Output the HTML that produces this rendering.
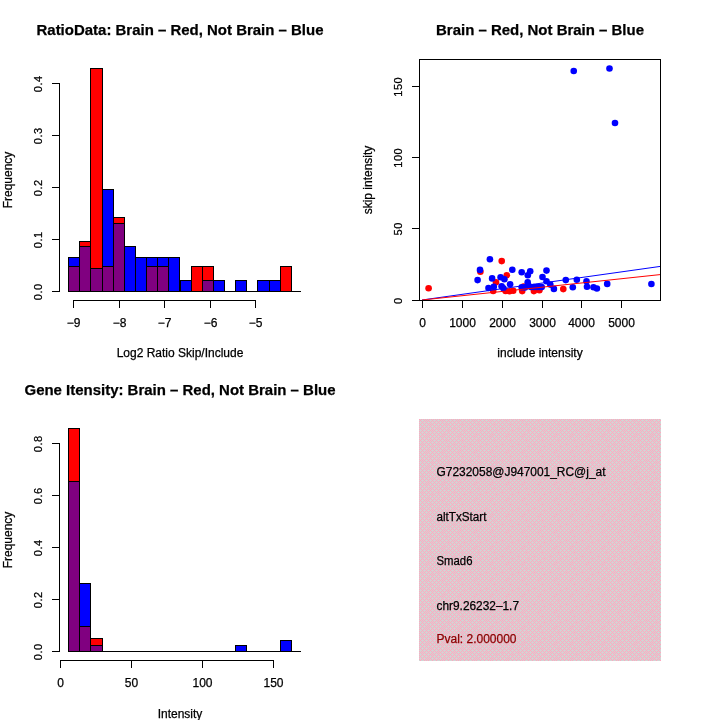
<!DOCTYPE html>
<html><head><meta charset="utf-8"><title>Plot</title>
<style>html,body{margin:0;padding:0;background:#fff;}svg{display:block;}text{font-family:"Liberation Sans",sans-serif;stroke:#000;stroke-width:0.25px;}</style></head>
<body>
<svg width="720" height="720" viewBox="0 0 720 720">
<defs><pattern id="dith" x="419" y="419" width="16" height="16" patternUnits="userSpaceOnUse"><rect width="16" height="16" fill="#d3d3d3"/><g fill="#ffa8c0" shape-rendering="crispEdges"><rect x="0" y="0" width="1" height="1"/><rect x="2" y="0" width="1" height="1"/><rect x="4" y="0" width="1" height="1"/><rect x="6" y="0" width="1" height="1"/><rect x="8" y="0" width="1" height="1"/><rect x="10" y="0" width="1" height="1"/><rect x="12" y="0" width="1" height="1"/><rect x="14" y="0" width="1" height="1"/><rect x="1" y="1" width="1" height="1"/><rect x="5" y="1" width="1" height="1"/><rect x="7" y="1" width="1" height="1"/><rect x="9" y="1" width="1" height="1"/><rect x="13" y="1" width="1" height="1"/><rect x="0" y="2" width="1" height="1"/><rect x="2" y="2" width="1" height="1"/><rect x="4" y="2" width="1" height="1"/><rect x="6" y="2" width="1" height="1"/><rect x="8" y="2" width="1" height="1"/><rect x="10" y="2" width="1" height="1"/><rect x="12" y="2" width="1" height="1"/><rect x="14" y="2" width="1" height="1"/><rect x="3" y="3" width="1" height="1"/><rect x="7" y="3" width="1" height="1"/><rect x="11" y="3" width="1" height="1"/><rect x="15" y="3" width="1" height="1"/><rect x="0" y="4" width="1" height="1"/><rect x="2" y="4" width="1" height="1"/><rect x="4" y="4" width="1" height="1"/><rect x="6" y="4" width="1" height="1"/><rect x="8" y="4" width="1" height="1"/><rect x="10" y="4" width="1" height="1"/><rect x="12" y="4" width="1" height="1"/><rect x="14" y="4" width="1" height="1"/><rect x="1" y="5" width="1" height="1"/><rect x="5" y="5" width="1" height="1"/><rect x="9" y="5" width="1" height="1"/><rect x="11" y="5" width="1" height="1"/><rect x="13" y="5" width="1" height="1"/><rect x="0" y="6" width="1" height="1"/><rect x="2" y="6" width="1" height="1"/><rect x="4" y="6" width="1" height="1"/><rect x="6" y="6" width="1" height="1"/><rect x="8" y="6" width="1" height="1"/><rect x="10" y="6" width="1" height="1"/><rect x="12" y="6" width="1" height="1"/><rect x="14" y="6" width="1" height="1"/><rect x="3" y="7" width="1" height="1"/><rect x="7" y="7" width="1" height="1"/><rect x="11" y="7" width="1" height="1"/><rect x="15" y="7" width="1" height="1"/><rect x="0" y="8" width="1" height="1"/><rect x="2" y="8" width="1" height="1"/><rect x="4" y="8" width="1" height="1"/><rect x="6" y="8" width="1" height="1"/><rect x="8" y="8" width="1" height="1"/><rect x="10" y="8" width="1" height="1"/><rect x="12" y="8" width="1" height="1"/><rect x="14" y="8" width="1" height="1"/><rect x="1" y="9" width="1" height="1"/><rect x="3" y="9" width="1" height="1"/><rect x="5" y="9" width="1" height="1"/><rect x="9" y="9" width="1" height="1"/><rect x="13" y="9" width="1" height="1"/><rect x="0" y="10" width="1" height="1"/><rect x="2" y="10" width="1" height="1"/><rect x="4" y="10" width="1" height="1"/><rect x="6" y="10" width="1" height="1"/><rect x="8" y="10" width="1" height="1"/><rect x="10" y="10" width="1" height="1"/><rect x="12" y="10" width="1" height="1"/><rect x="14" y="10" width="1" height="1"/><rect x="3" y="11" width="1" height="1"/><rect x="7" y="11" width="1" height="1"/><rect x="11" y="11" width="1" height="1"/><rect x="13" y="11" width="1" height="1"/><rect x="15" y="11" width="1" height="1"/><rect x="0" y="12" width="1" height="1"/><rect x="2" y="12" width="1" height="1"/><rect x="4" y="12" width="1" height="1"/><rect x="6" y="12" width="1" height="1"/><rect x="8" y="12" width="1" height="1"/><rect x="10" y="12" width="1" height="1"/><rect x="12" y="12" width="1" height="1"/><rect x="14" y="12" width="1" height="1"/><rect x="1" y="13" width="1" height="1"/><rect x="5" y="13" width="1" height="1"/><rect x="9" y="13" width="1" height="1"/><rect x="13" y="13" width="1" height="1"/><rect x="0" y="14" width="1" height="1"/><rect x="2" y="14" width="1" height="1"/><rect x="4" y="14" width="1" height="1"/><rect x="6" y="14" width="1" height="1"/><rect x="8" y="14" width="1" height="1"/><rect x="10" y="14" width="1" height="1"/><rect x="12" y="14" width="1" height="1"/><rect x="14" y="14" width="1" height="1"/><rect x="3" y="15" width="1" height="1"/><rect x="7" y="15" width="1" height="1"/><rect x="9" y="15" width="1" height="1"/><rect x="11" y="15" width="1" height="1"/><rect x="15" y="15" width="1" height="1"/></g></pattern></defs>
<rect width="720" height="720" fill="#fff"/>
<g id="p1">
<line x1="68" y1="291.5" x2="301" y2="291.5" stroke="#000" stroke-width="1" shape-rendering="crispEdges"/>
<rect x="68.50" y="266.50" width="11.00" height="25.00" fill="#ff0000" stroke="#000" stroke-width="1" shape-rendering="crispEdges"/>
<rect x="68.50" y="257.50" width="11.00" height="34.00" fill="#0000ff" stroke="#000" stroke-width="1" shape-rendering="crispEdges"/>
<rect x="68.50" y="266.50" width="11.00" height="25.00" fill="#800080" stroke="#000" stroke-width="1" shape-rendering="crispEdges"/>
<rect x="79.50" y="241.50" width="11.00" height="50.00" fill="#ff0000" stroke="#000" stroke-width="1" shape-rendering="crispEdges"/>
<rect x="79.50" y="246.50" width="11.00" height="45.00" fill="#0000ff" stroke="#000" stroke-width="1" shape-rendering="crispEdges"/>
<rect x="79.50" y="246.50" width="11.00" height="45.00" fill="#800080" stroke="#000" stroke-width="1" shape-rendering="crispEdges"/>
<rect x="90.50" y="68.50" width="12.00" height="223.00" fill="#ff0000" stroke="#000" stroke-width="1" shape-rendering="crispEdges"/>
<rect x="90.50" y="268.50" width="12.00" height="23.00" fill="#0000ff" stroke="#000" stroke-width="1" shape-rendering="crispEdges"/>
<rect x="90.50" y="268.50" width="12.00" height="23.00" fill="#800080" stroke="#000" stroke-width="1" shape-rendering="crispEdges"/>
<rect x="102.50" y="266.50" width="11.00" height="25.00" fill="#ff0000" stroke="#000" stroke-width="1" shape-rendering="crispEdges"/>
<rect x="102.50" y="189.50" width="11.00" height="102.00" fill="#0000ff" stroke="#000" stroke-width="1" shape-rendering="crispEdges"/>
<rect x="102.50" y="266.50" width="11.00" height="25.00" fill="#800080" stroke="#000" stroke-width="1" shape-rendering="crispEdges"/>
<rect x="113.50" y="217.50" width="11.00" height="74.00" fill="#ff0000" stroke="#000" stroke-width="1" shape-rendering="crispEdges"/>
<rect x="113.50" y="223.50" width="11.00" height="68.00" fill="#0000ff" stroke="#000" stroke-width="1" shape-rendering="crispEdges"/>
<rect x="113.50" y="223.50" width="11.00" height="68.00" fill="#800080" stroke="#000" stroke-width="1" shape-rendering="crispEdges"/>
<rect x="124.50" y="246.50" width="11.00" height="45.00" fill="#0000ff" stroke="#000" stroke-width="1" shape-rendering="crispEdges"/>
<rect x="135.50" y="257.50" width="11.00" height="34.00" fill="#0000ff" stroke="#000" stroke-width="1" shape-rendering="crispEdges"/>
<rect x="146.50" y="266.50" width="11.00" height="25.00" fill="#ff0000" stroke="#000" stroke-width="1" shape-rendering="crispEdges"/>
<rect x="146.50" y="257.50" width="11.00" height="34.00" fill="#0000ff" stroke="#000" stroke-width="1" shape-rendering="crispEdges"/>
<rect x="146.50" y="266.50" width="11.00" height="25.00" fill="#800080" stroke="#000" stroke-width="1" shape-rendering="crispEdges"/>
<rect x="157.50" y="266.50" width="11.00" height="25.00" fill="#ff0000" stroke="#000" stroke-width="1" shape-rendering="crispEdges"/>
<rect x="157.50" y="257.50" width="11.00" height="34.00" fill="#0000ff" stroke="#000" stroke-width="1" shape-rendering="crispEdges"/>
<rect x="157.50" y="266.50" width="11.00" height="25.00" fill="#800080" stroke="#000" stroke-width="1" shape-rendering="crispEdges"/>
<rect x="168.50" y="257.50" width="11.00" height="34.00" fill="#0000ff" stroke="#000" stroke-width="1" shape-rendering="crispEdges"/>
<rect x="180.50" y="280.50" width="11.00" height="11.00" fill="#0000ff" stroke="#000" stroke-width="1" shape-rendering="crispEdges"/>
<rect x="191.50" y="266.50" width="11.00" height="25.00" fill="#ff0000" stroke="#000" stroke-width="1" shape-rendering="crispEdges"/>
<rect x="202.50" y="266.50" width="11.00" height="25.00" fill="#ff0000" stroke="#000" stroke-width="1" shape-rendering="crispEdges"/>
<rect x="202.50" y="280.50" width="11.00" height="11.00" fill="#0000ff" stroke="#000" stroke-width="1" shape-rendering="crispEdges"/>
<rect x="202.50" y="280.50" width="11.00" height="11.00" fill="#800080" stroke="#000" stroke-width="1" shape-rendering="crispEdges"/>
<rect x="213.50" y="280.50" width="11.00" height="11.00" fill="#0000ff" stroke="#000" stroke-width="1" shape-rendering="crispEdges"/>
<rect x="235.50" y="280.50" width="11.00" height="11.00" fill="#0000ff" stroke="#000" stroke-width="1" shape-rendering="crispEdges"/>
<rect x="257.50" y="280.50" width="12.00" height="11.00" fill="#0000ff" stroke="#000" stroke-width="1" shape-rendering="crispEdges"/>
<rect x="269.50" y="280.50" width="11.00" height="11.00" fill="#0000ff" stroke="#000" stroke-width="1" shape-rendering="crispEdges"/>
<rect x="280.50" y="266.50" width="11.00" height="25.00" fill="#ff0000" stroke="#000" stroke-width="1" shape-rendering="crispEdges"/>
<line x1="59.5" y1="83" x2="59.5" y2="292" stroke="#000" stroke-width="1" shape-rendering="crispEdges"/>
<line x1="52" y1="291.5" x2="60" y2="291.5" stroke="#000" stroke-width="1" shape-rendering="crispEdges"/>
<text x="42" y="291.8" font-size="11" text-anchor="middle" transform="rotate(-90 42 291.8)" letter-spacing="0.5">0.0</text>
<line x1="52" y1="239.5" x2="60" y2="239.5" stroke="#000" stroke-width="1" shape-rendering="crispEdges"/>
<text x="42" y="239.8" font-size="11" text-anchor="middle" transform="rotate(-90 42 239.8)" letter-spacing="0.5">0.1</text>
<line x1="52" y1="187.5" x2="60" y2="187.5" stroke="#000" stroke-width="1" shape-rendering="crispEdges"/>
<text x="42" y="187.8" font-size="11" text-anchor="middle" transform="rotate(-90 42 187.8)" letter-spacing="0.5">0.2</text>
<line x1="52" y1="135.5" x2="60" y2="135.5" stroke="#000" stroke-width="1" shape-rendering="crispEdges"/>
<text x="42" y="135.8" font-size="11" text-anchor="middle" transform="rotate(-90 42 135.8)" letter-spacing="0.5">0.3</text>
<line x1="52" y1="83.5" x2="60" y2="83.5" stroke="#000" stroke-width="1" shape-rendering="crispEdges"/>
<text x="42" y="83.8" font-size="11" text-anchor="middle" transform="rotate(-90 42 83.8)" letter-spacing="0.5">0.4</text>
<line x1="73" y1="300.5" x2="256" y2="300.5" stroke="#000" stroke-width="1" shape-rendering="crispEdges"/>
<line x1="73.5" y1="300" x2="73.5" y2="308" stroke="#000" stroke-width="1" shape-rendering="crispEdges"/>
<text x="73.5" y="327.3" font-size="12" text-anchor="middle">−9</text>
<line x1="119.5" y1="300" x2="119.5" y2="308" stroke="#000" stroke-width="1" shape-rendering="crispEdges"/>
<text x="119.5" y="327.3" font-size="12" text-anchor="middle">−8</text>
<line x1="164.5" y1="300" x2="164.5" y2="308" stroke="#000" stroke-width="1" shape-rendering="crispEdges"/>
<text x="164.5" y="327.3" font-size="12" text-anchor="middle">−7</text>
<line x1="210.5" y1="300" x2="210.5" y2="308" stroke="#000" stroke-width="1" shape-rendering="crispEdges"/>
<text x="210.5" y="327.3" font-size="12" text-anchor="middle">−6</text>
<line x1="255.5" y1="300" x2="255.5" y2="308" stroke="#000" stroke-width="1" shape-rendering="crispEdges"/>
<text x="255.5" y="327.3" font-size="12" text-anchor="middle">−5</text>
<text x="180" y="35" font-size="15" text-anchor="middle" font-weight="bold" textLength="287" lengthAdjust="spacingAndGlyphs">RatioData: Brain – Red, Not Brain – Blue</text>
<text x="180" y="357" font-size="12" text-anchor="middle">Log2 Ratio Skip/Include</text>
<text x="11.5" y="180" font-size="12" text-anchor="middle" transform="rotate(-90 11.5 180)">Frequency</text>
</g>
<g id="p3">
<line x1="68" y1="651.5" x2="301" y2="651.5" stroke="#000" stroke-width="1" shape-rendering="crispEdges"/>
<rect x="68.50" y="428.50" width="11.00" height="223.00" fill="#ff0000" stroke="#000" stroke-width="1" shape-rendering="crispEdges"/>
<rect x="68.50" y="481.50" width="11.00" height="170.00" fill="#0000ff" stroke="#000" stroke-width="1" shape-rendering="crispEdges"/>
<rect x="68.50" y="481.50" width="11.00" height="170.00" fill="#800080" stroke="#000" stroke-width="1" shape-rendering="crispEdges"/>
<rect x="79.50" y="626.50" width="11.00" height="25.00" fill="#ff0000" stroke="#000" stroke-width="1" shape-rendering="crispEdges"/>
<rect x="79.50" y="583.50" width="11.00" height="68.00" fill="#0000ff" stroke="#000" stroke-width="1" shape-rendering="crispEdges"/>
<rect x="79.50" y="626.50" width="11.00" height="25.00" fill="#800080" stroke="#000" stroke-width="1" shape-rendering="crispEdges"/>
<rect x="90.50" y="638.50" width="12.00" height="13.00" fill="#ff0000" stroke="#000" stroke-width="1" shape-rendering="crispEdges"/>
<rect x="90.50" y="645.50" width="12.00" height="6.00" fill="#0000ff" stroke="#000" stroke-width="1" shape-rendering="crispEdges"/>
<rect x="90.50" y="645.50" width="12.00" height="6.00" fill="#800080" stroke="#000" stroke-width="1" shape-rendering="crispEdges"/>
<rect x="235.50" y="645.50" width="11.00" height="6.00" fill="#0000ff" stroke="#000" stroke-width="1" shape-rendering="crispEdges"/>
<rect x="280.50" y="640.50" width="11.00" height="11.00" fill="#0000ff" stroke="#000" stroke-width="1" shape-rendering="crispEdges"/>
<line x1="59.5" y1="443" x2="59.5" y2="652" stroke="#000" stroke-width="1" shape-rendering="crispEdges"/>
<line x1="52" y1="651.5" x2="60" y2="651.5" stroke="#000" stroke-width="1" shape-rendering="crispEdges"/>
<text x="42" y="651.8" font-size="11" text-anchor="middle" transform="rotate(-90 42 651.8)" letter-spacing="0.5">0.0</text>
<line x1="52" y1="599.5" x2="60" y2="599.5" stroke="#000" stroke-width="1" shape-rendering="crispEdges"/>
<text x="42" y="599.8" font-size="11" text-anchor="middle" transform="rotate(-90 42 599.8)" letter-spacing="0.5">0.2</text>
<line x1="52" y1="547.5" x2="60" y2="547.5" stroke="#000" stroke-width="1" shape-rendering="crispEdges"/>
<text x="42" y="547.8" font-size="11" text-anchor="middle" transform="rotate(-90 42 547.8)" letter-spacing="0.5">0.4</text>
<line x1="52" y1="495.5" x2="60" y2="495.5" stroke="#000" stroke-width="1" shape-rendering="crispEdges"/>
<text x="42" y="495.8" font-size="11" text-anchor="middle" transform="rotate(-90 42 495.8)" letter-spacing="0.5">0.6</text>
<line x1="52" y1="443.5" x2="60" y2="443.5" stroke="#000" stroke-width="1" shape-rendering="crispEdges"/>
<text x="42" y="443.8" font-size="11" text-anchor="middle" transform="rotate(-90 42 443.8)" letter-spacing="0.5">0.8</text>
<line x1="60" y1="660.5" x2="274" y2="660.5" stroke="#000" stroke-width="1" shape-rendering="crispEdges"/>
<line x1="60.5" y1="660" x2="60.5" y2="668" stroke="#000" stroke-width="1" shape-rendering="crispEdges"/>
<text x="60.5" y="687.3" font-size="12" text-anchor="middle">0</text>
<line x1="131.5" y1="660" x2="131.5" y2="668" stroke="#000" stroke-width="1" shape-rendering="crispEdges"/>
<text x="131.5" y="687.3" font-size="12" text-anchor="middle">50</text>
<line x1="202.5" y1="660" x2="202.5" y2="668" stroke="#000" stroke-width="1" shape-rendering="crispEdges"/>
<text x="202.5" y="687.3" font-size="12" text-anchor="middle">100</text>
<line x1="273.5" y1="660" x2="273.5" y2="668" stroke="#000" stroke-width="1" shape-rendering="crispEdges"/>
<text x="273.5" y="687.3" font-size="12" text-anchor="middle">150</text>
<text x="180" y="395" font-size="15" text-anchor="middle" font-weight="bold" textLength="311" lengthAdjust="spacingAndGlyphs">Gene Itensity: Brain – Red, Not Brain – Blue</text>
<text x="180" y="717.5" font-size="12" text-anchor="middle">Intensity</text>
<text x="11.5" y="540" font-size="12" text-anchor="middle" transform="rotate(-90 11.5 540)">Frequency</text>
</g>
<g id="p2">
<circle cx="428.6" cy="288.2" r="3.3" fill="#ff0000"/>
<circle cx="501.7" cy="261.1" r="3.3" fill="#ff0000"/>
<circle cx="480.4" cy="271.8" r="3.3" fill="#ff0000"/>
<circle cx="506.8" cy="275.3" r="3.3" fill="#ff0000"/>
<circle cx="496" cy="282.3" r="3.3" fill="#ff0000"/>
<circle cx="493.2" cy="291" r="3.3" fill="#ff0000"/>
<circle cx="505.6" cy="291" r="3.3" fill="#ff0000"/>
<circle cx="509.5" cy="291.2" r="3.3" fill="#ff0000"/>
<circle cx="513.2" cy="290.8" r="3.3" fill="#ff0000"/>
<circle cx="522.2" cy="291.1" r="3.3" fill="#ff0000"/>
<circle cx="523.6" cy="286.6" r="3.3" fill="#ff0000"/>
<circle cx="533.9" cy="291.1" r="3.3" fill="#ff0000"/>
<circle cx="539.4" cy="290.2" r="3.3" fill="#ff0000"/>
<circle cx="563.3" cy="289.1" r="3.3" fill="#ff0000"/>
<circle cx="573.75" cy="71" r="3.3" fill="#0000ff"/>
<circle cx="609.5" cy="68.5" r="3.3" fill="#0000ff"/>
<circle cx="615" cy="123" r="3.3" fill="#0000ff"/>
<circle cx="489.9" cy="259.3" r="3.3" fill="#0000ff"/>
<circle cx="480" cy="269.9" r="3.3" fill="#0000ff"/>
<circle cx="477.6" cy="280.1" r="3.3" fill="#0000ff"/>
<circle cx="492.1" cy="278.4" r="3.3" fill="#0000ff"/>
<circle cx="500.6" cy="277.2" r="3.3" fill="#0000ff"/>
<circle cx="504.4" cy="279.3" r="3.3" fill="#0000ff"/>
<circle cx="512.3" cy="269.8" r="3.3" fill="#0000ff"/>
<circle cx="521.7" cy="272.2" r="3.3" fill="#0000ff"/>
<circle cx="530.2" cy="271.3" r="3.3" fill="#0000ff"/>
<circle cx="527.8" cy="275.3" r="3.3" fill="#0000ff"/>
<circle cx="546.5" cy="270.6" r="3.3" fill="#0000ff"/>
<circle cx="542.5" cy="277" r="3.3" fill="#0000ff"/>
<circle cx="546.5" cy="281.2" r="3.3" fill="#0000ff"/>
<circle cx="550.3" cy="284.6" r="3.3" fill="#0000ff"/>
<circle cx="553.9" cy="288.9" r="3.3" fill="#0000ff"/>
<circle cx="565.8" cy="280.1" r="3.3" fill="#0000ff"/>
<circle cx="510.1" cy="284.3" r="3.3" fill="#0000ff"/>
<circle cx="493.8" cy="286.8" r="3.3" fill="#0000ff"/>
<circle cx="501.6" cy="286.2" r="3.3" fill="#0000ff"/>
<circle cx="503.4" cy="288.3" r="3.3" fill="#0000ff"/>
<circle cx="488.5" cy="288" r="3.3" fill="#0000ff"/>
<circle cx="521.7" cy="287.2" r="3.3" fill="#0000ff"/>
<circle cx="527.7" cy="282.2" r="3.3" fill="#0000ff"/>
<circle cx="528.3" cy="285.6" r="3.3" fill="#0000ff"/>
<circle cx="525" cy="287.4" r="3.3" fill="#0000ff"/>
<circle cx="531" cy="287" r="3.3" fill="#0000ff"/>
<circle cx="533.9" cy="287" r="3.3" fill="#0000ff"/>
<circle cx="536.8" cy="287" r="3.3" fill="#0000ff"/>
<circle cx="539.4" cy="287" r="3.3" fill="#0000ff"/>
<circle cx="541.7" cy="287" r="3.3" fill="#0000ff"/>
<circle cx="572.8" cy="287.3" r="3.3" fill="#0000ff"/>
<circle cx="576.8" cy="279.7" r="3.3" fill="#0000ff"/>
<circle cx="586.5" cy="281.3" r="3.3" fill="#0000ff"/>
<circle cx="587" cy="286.7" r="3.3" fill="#0000ff"/>
<circle cx="593.5" cy="287.3" r="3.3" fill="#0000ff"/>
<circle cx="596.9" cy="288.5" r="3.3" fill="#0000ff"/>
<circle cx="607.2" cy="283.9" r="3.3" fill="#0000ff"/>
<circle cx="651.4" cy="284" r="3.3" fill="#0000ff"/>
<line x1="422" y1="300" x2="661" y2="266.3" stroke="#0000ff" stroke-width="1"/>
<line x1="422" y1="300" x2="661" y2="274.5" stroke="#ff0000" stroke-width="1"/>
<rect x="419.5" y="59.5" width="241" height="241" fill="none" stroke="#000" stroke-width="1" shape-rendering="crispEdges"/>
<line x1="412" y1="300.5" x2="420" y2="300.5" stroke="#000" stroke-width="1" shape-rendering="crispEdges"/>
<text x="402" y="300.8" font-size="11" text-anchor="middle" transform="rotate(-90 402 300.8)" letter-spacing="0.5">0</text>
<line x1="412" y1="228.5" x2="420" y2="228.5" stroke="#000" stroke-width="1" shape-rendering="crispEdges"/>
<text x="402" y="228.8" font-size="11" text-anchor="middle" transform="rotate(-90 402 228.8)" letter-spacing="0.5">50</text>
<line x1="412" y1="157.5" x2="420" y2="157.5" stroke="#000" stroke-width="1" shape-rendering="crispEdges"/>
<text x="402" y="157.8" font-size="11" text-anchor="middle" transform="rotate(-90 402 157.8)" letter-spacing="0.5">100</text>
<line x1="412" y1="86.5" x2="420" y2="86.5" stroke="#000" stroke-width="1" shape-rendering="crispEdges"/>
<text x="402" y="86.8" font-size="11" text-anchor="middle" transform="rotate(-90 402 86.8)" letter-spacing="0.5">150</text>
<line x1="422.5" y1="300" x2="422.5" y2="308" stroke="#000" stroke-width="1" shape-rendering="crispEdges"/>
<text x="422.5" y="327.3" font-size="12" text-anchor="middle">0</text>
<line x1="462.5" y1="300" x2="462.5" y2="308" stroke="#000" stroke-width="1" shape-rendering="crispEdges"/>
<text x="462.5" y="327.3" font-size="12" text-anchor="middle">1000</text>
<line x1="502.5" y1="300" x2="502.5" y2="308" stroke="#000" stroke-width="1" shape-rendering="crispEdges"/>
<text x="502.5" y="327.3" font-size="12" text-anchor="middle">2000</text>
<line x1="542.5" y1="300" x2="542.5" y2="308" stroke="#000" stroke-width="1" shape-rendering="crispEdges"/>
<text x="542.5" y="327.3" font-size="12" text-anchor="middle">3000</text>
<line x1="581.5" y1="300" x2="581.5" y2="308" stroke="#000" stroke-width="1" shape-rendering="crispEdges"/>
<text x="581.5" y="327.3" font-size="12" text-anchor="middle">4000</text>
<line x1="621.5" y1="300" x2="621.5" y2="308" stroke="#000" stroke-width="1" shape-rendering="crispEdges"/>
<text x="621.5" y="327.3" font-size="12" text-anchor="middle">5000</text>
<text x="540" y="35" font-size="15" text-anchor="middle" font-weight="bold" textLength="208" lengthAdjust="spacingAndGlyphs">Brain – Red, Not Brain – Blue</text>
<text x="540" y="357" font-size="12" text-anchor="middle">include intensity</text>
<text x="371.8" y="180" font-size="12" text-anchor="middle" transform="rotate(-90 371.8 180)">skip intensity</text>
</g>
<g id="p4">
<rect x="419" y="419" width="242" height="242" fill="url(#dith)" shape-rendering="crispEdges"/>
<text x="436.5" y="476" font-size="12" text-anchor="start" textLength="169" lengthAdjust="spacingAndGlyphs">G7232058@J947001_RC@j_at</text>
<text x="436.5" y="520.5" font-size="12" text-anchor="start" textLength="50" lengthAdjust="spacingAndGlyphs">altTxStart</text>
<text x="436.5" y="565" font-size="12" text-anchor="start" textLength="36" lengthAdjust="spacingAndGlyphs">Smad6</text>
<text x="436.5" y="610" font-size="12" text-anchor="start" textLength="82.5" lengthAdjust="spacingAndGlyphs">chr9.26232–1.7</text>
<text x="436.5" y="643" font-size="12" text-anchor="start" style="fill:#8b0000;stroke:#8b0000" textLength="80" lengthAdjust="spacingAndGlyphs">Pval: 2.000000</text>
</g>
</svg>
</body></html>
